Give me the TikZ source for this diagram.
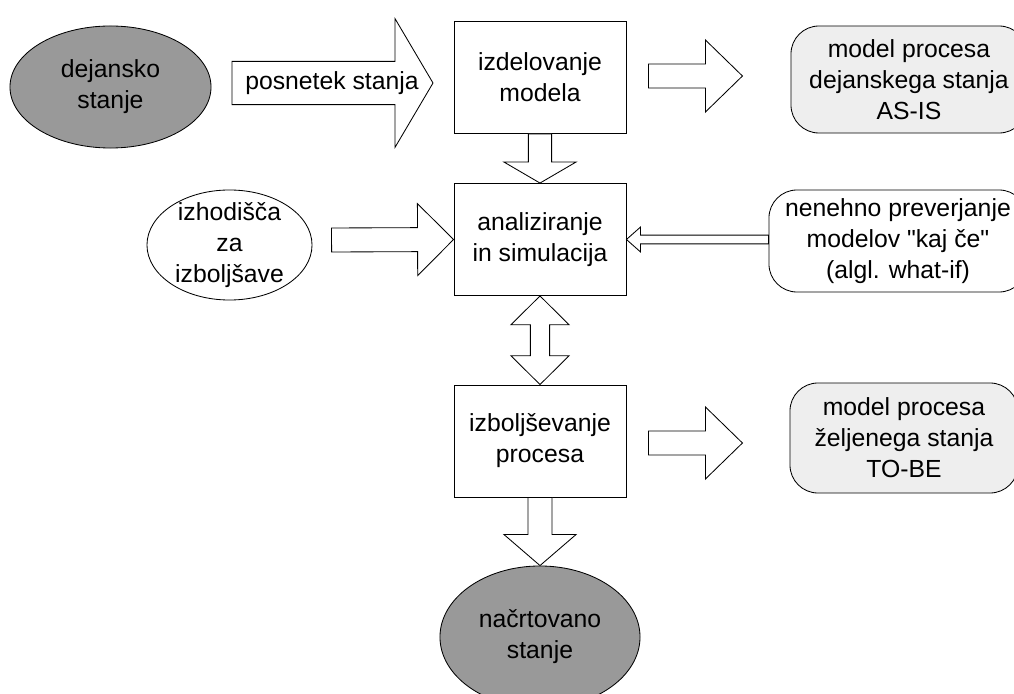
\documentclass[tikz,border=0pt]{standalone}
\usepackage{fontspec}
\setmainfont{Liberation Sans}
\usetikzlibrary{calc,shapes.geometric}

\definecolor{darkfill}{HTML}{999999}
\definecolor{lightfill}{HTML}{EEEEEE}

\tikzset{
  box/.style={draw,line width=0.6pt,minimum width=4.3cm,minimum height=2.8cm,align=center},
  rbox/.style={draw,line width=0.6pt,rounded corners=0.7cm,align=center,inner sep=0pt},
  oval/.style={draw,line width=0.6pt,ellipse,inner sep=0pt,align=center},
  blk/.style={draw,line width=0.6pt,fill=white,line join=miter},
}

% block arrow: from, to, body half width, head half width, head length
\newcommand{\blockarrow}[5]{%
  \coordinate (nk) at ($(#2)!#5!(#1)$);
  \draw[blk] ($(#1)!#3!90:(#2)$) -- ($(nk)!#3!90:(#2)$) -- ($(nk)!#4!90:(#2)$)
    -- (#2) -- ($(nk)!#4!-90:(#2)$) -- ($(nk)!#3!-90:(#2)$) -- ($(#1)!#3!-90:(#2)$) -- cycle;}

% double block arrow: same arguments, a head at both ends
\newcommand{\dblockarrow}[5]{%
  \coordinate (nka) at ($(#1)!#5!(#2)$);
  \coordinate (nkb) at ($(#2)!#5!(#1)$);
  \draw[blk] (#1) -- ($(nka)!#4!90:(#2)$) -- ($(nka)!#3!90:(#2)$) -- ($(nkb)!#3!90:(#2)$)
    -- ($(nkb)!#4!90:(#2)$) -- (#2) -- ($(nkb)!#4!-90:(#2)$) -- ($(nkb)!#3!-90:(#2)$)
    -- ($(nka)!#3!-90:(#2)$) -- ($(nka)!#4!-90:(#2)$) -- cycle;}

\begin{document}
\begin{tikzpicture}[x=0.025cm,y=-0.025cm,font=\fontsize{17.6pt}{22pt}\selectfont]
\useasboundingbox (0,0) rectangle (1014,694);

% States (ellipses)
\node[oval,fill=darkfill,minimum width=5.025cm,minimum height=3.05cm] (dejansko) at (110.5,87) {dejansko\\stanje};
\node[oval,fill=darkfill,minimum width=5cm,minimum height=3.55cm] (nacrtovano) at (540,637) {načrtovano\\stanje};
\draw[line width=0.6pt] (229.5,245) ellipse [x radius=2.0625cm,y radius=1.375cm];
\node[align=center,inner sep=0pt] (izhodisca) at (229.5,245) {izhodišča\\za\\izboljšave};

% Process boxes
\node[box] (izdelovanje) at (540,77.5) {izdelovanje\\modela};
\node[box] (analiziranje) at (540,239.5) {analiziranje\\in simulacija};
\node[box] (izboljsevanje) at (540,441) {izboljševanje\\procesa};

% Results and checks
\node[rbox,fill=lightfill,minimum width=5.9cm,minimum height=2.675cm] (asis) at (909,79.5) {model procesa\\dejanskega stanja\\AS-IS};
\node[rbox,minimum width=6.45cm,minimum height=2.55cm] (whatif) at (898,241) {nenehno preverjanje\\modelov \textquotedbl kaj če\textquotedbl\\(algl. what-if)};
\node[rbox,fill=lightfill,minimum width=5.7cm,minimum height=2.75cm] (tobe) at (904,438) {model procesa\\željenega stanja\\TO-BE};

% Arrow end points
\coordinate (posS) at (232,83);
\coordinate (posE) at (433,83);
\coordinate (izhS) at ($(analiziranje.west)+(-122,0.5)$);
\coordinate (asisS) at ($(izdelovanje.east)+(22,-1.5)$);
\coordinate (asisE) at ($(izdelovanje.east)+(116,-1.5)$);
\coordinate (whatifS) at (whatif.west |- analiziranje.east);
\coordinate (tobeS) at ($(izboljsevanje.east)+(22,2)$);
\coordinate (tobeE) at ($(izboljsevanje.east)+(116,2)$);

% Block arrows
\blockarrow{posS}{posE}{0.54cm}{1.61cm}{0.95cm}
\node (posnetek) at (332,83) {posnetek stanja};
\blockarrow{izhS}{analiziranje.west}{0.3cm}{0.9cm}{0.9cm}
\blockarrow{asisS}{asisE}{0.3cm}{0.9cm}{0.925cm}
\blockarrow{izdelovanje.south}{analiziranje.north}{0.29cm}{0.9cm}{0.525cm}
\blockarrow{whatifS}{analiziranje.east}{0.11cm}{0.31cm}{0.35cm}
\dblockarrow{analiziranje.south}{izboljsevanje.north}{0.24cm}{0.725cm}{0.72cm}
\blockarrow{tobeS}{tobeE}{0.3cm}{0.9cm}{0.925cm}
\blockarrow{izboljsevanje.south}{nacrtovano.north}{0.3cm}{0.9cm}{0.775cm}

\end{tikzpicture}
\end{document}
